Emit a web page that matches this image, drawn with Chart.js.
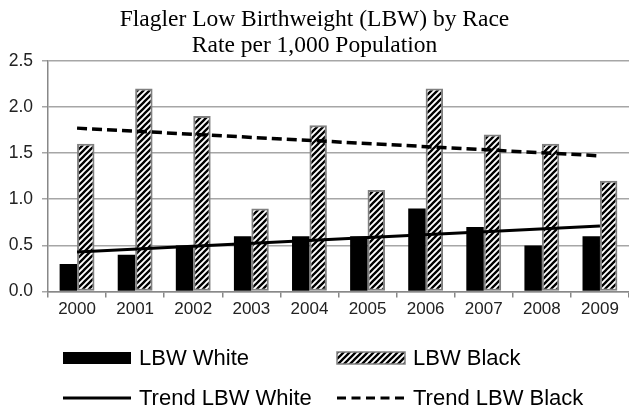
<!DOCTYPE html>
<html>
<head>
<meta charset="utf-8">
<script src="https://cdn.jsdelivr.net/npm/chart.js@4.4.0/dist/chart.umd.min.js"></script>
<style>
  html, body { margin: 0; padding: 0; background: #fff; }
  #wrap { width: 629px; height: 412px; }
</style>
</head>
<body>
<div id="wrap"><canvas id="chart" width="629" height="412"></canvas></div>
<script>
const years = ["2000", "2001", "2002", "2003", "2004", "2005", "2006", "2007", "2008", "2009"];
const lbwWhite = [0.3, 0.4, 0.5, 0.6, 0.6, 0.6, 0.9, 0.7, 0.5, 0.6];
const lbwBlack = [1.6, 2.2, 1.9, 0.9, 1.8, 1.1, 2.2, 1.7, 1.6, 1.2];
// trend lines: only the two end points, joined with spanGaps
const trendWhite = [0.43, null, null, null, null, null, null, null, null, 0.71];
const trendBlack = [1.77, null, null, null, null, null, null, null, null, 1.47];
const titleLines = ["Flagler Low Birthweight (LBW) by Race", "Rate per 1,000 Population"];

function makeHatch() {
  const c = document.createElement("canvas");
  c.width = 6;
  c.height = 6;
  const g = c.getContext("2d");
  g.fillStyle = "#fff";
  g.fillRect(0, 0, 6, 6);
  g.strokeStyle = "#000";
  g.lineWidth = 2.3;
  g.beginPath();
  g.moveTo(-1, 7); g.lineTo(7, -1);
  g.moveTo(-4, 4); g.lineTo(4, -4);
  g.moveTo(2, 10); g.lineTo(10, 2);
  g.stroke();
  return g.createPattern(c, "repeat");
}

const hatch = makeHatch();

// legend drawn as a 2x2 grid like the original
const gridLegend = {
  id: "gridLegend",
  afterDraw(chart) {
    const ctx = chart.ctx;
    const cols = [63, 337];
    const rows = [358, 398];
    const boxW = 68;
    const items = [
      { text: "LBW White", kind: "solid" },
      { text: "LBW Black", kind: "hatch" },
      { text: "Trend LBW White", kind: "line" },
      { text: "Trend LBW Black", kind: "dash" },
    ];
    ctx.save();
    ctx.font = "22px 'Liberation Sans', Arial, sans-serif";
    ctx.textBaseline = "middle";
    items.forEach((it, i) => {
      const x = cols[i % 2];
      const y = rows[Math.floor(i / 2)];
      if (it.kind === "solid") {
        ctx.fillStyle = "#000";
        ctx.fillRect(x, y - 6, boxW, 12);
      } else if (it.kind === "hatch") {
        ctx.fillStyle = hatch;
        ctx.fillRect(x, y - 6, boxW, 12);
        ctx.strokeStyle = "#808080";
        ctx.lineWidth = 1.5;
        ctx.strokeRect(x, y - 6, boxW, 12);
      } else {
        ctx.strokeStyle = "#000";
        ctx.lineWidth = 3;
        ctx.setLineDash(it.kind === "dash" ? [9, 5.5] : []);
        ctx.beginPath();
        ctx.moveTo(x, y);
        ctx.lineTo(x + boxW, y);
        ctx.stroke();
        ctx.setLineDash([]);
      }
      ctx.fillStyle = "#000";
      ctx.fillText(it.text, x + boxW + 8, y + 1);
    });
    ctx.restore();
  },
};

new Chart(document.getElementById("chart").getContext("2d"), {
  type: "bar",
  data: {
    labels: years,
    datasets: [
      {
        type: "line",
        label: "Trend LBW White",
        data: trendWhite,
        borderColor: "#000",
        borderWidth: 3,
        pointRadius: 0,
        spanGaps: true,
        fill: false,
        order: 0,
      },
      {
        type: "line",
        label: "Trend LBW Black",
        data: trendBlack,
        borderColor: "#000",
        borderWidth: 3.5,
        borderDash: [10, 5],
        pointRadius: 0,
        spanGaps: true,
        fill: false,
        order: 0,
      },
      {
        label: "LBW White",
        data: lbwWhite,
        backgroundColor: "#000",
        borderWidth: 0,
        categoryPercentage: 0.6,
        barPercentage: 1.0,
        order: 1,
      },
      {
        label: "LBW Black",
        data: lbwBlack,
        backgroundColor: hatch,
        borderColor: "#808080",
        borderWidth: 2,
        borderSkipped: false,
        categoryPercentage: 0.6,
        barPercentage: 1.0,
        order: 1,
      },
    ],
  },
  options: {
    responsive: false,
    animation: false,
    layout: {
      padding: { top: 7, right: 0, bottom: 90, left: 0 },
    },
    plugins: {
      legend: { display: false },
      tooltip: { enabled: false },
      title: {
        display: true,
        text: titleLines,
        color: "#000",
        padding: { top: 0, bottom: 2 },
        font: {
          family: "'Liberation Serif', 'Times New Roman', serif",
          size: 23.5,
          weight: "normal",
          lineHeight: 1.1,
        },
      },
    },
    scales: {
      x: {
        grid: {
          display: true,
          drawOnChartArea: false,
          drawTicks: true,
          tickLength: 6,
          color: "#888",
          lineWidth: 1.5,
        },
        border: { display: true, color: "#888", width: 1.5 },
        ticks: {
          color: "#222",
          padding: 2,
          font: { family: "'Liberation Sans', Arial, sans-serif", size: 17 },
        },
      },
      y: {
        min: 0,
        max: 2.5,
        afterFit: (axis) => { axis.width = 48; },
        grid: {
          color: "#a6a6a6",
          lineWidth: 1.5,
          drawTicks: true,
          tickLength: 6,
        },
        border: { display: true, color: "#888", width: 1.5 },
        ticks: {
          stepSize: 0.5,
          color: "#222",
          padding: 9,
          callback: (v) => v.toFixed(1),
          font: { family: "'Liberation Sans', Arial, sans-serif", size: 17.5 },
        },
      },
    },
  },
  plugins: [gridLegend],
});
</script>
</body>
</html>
